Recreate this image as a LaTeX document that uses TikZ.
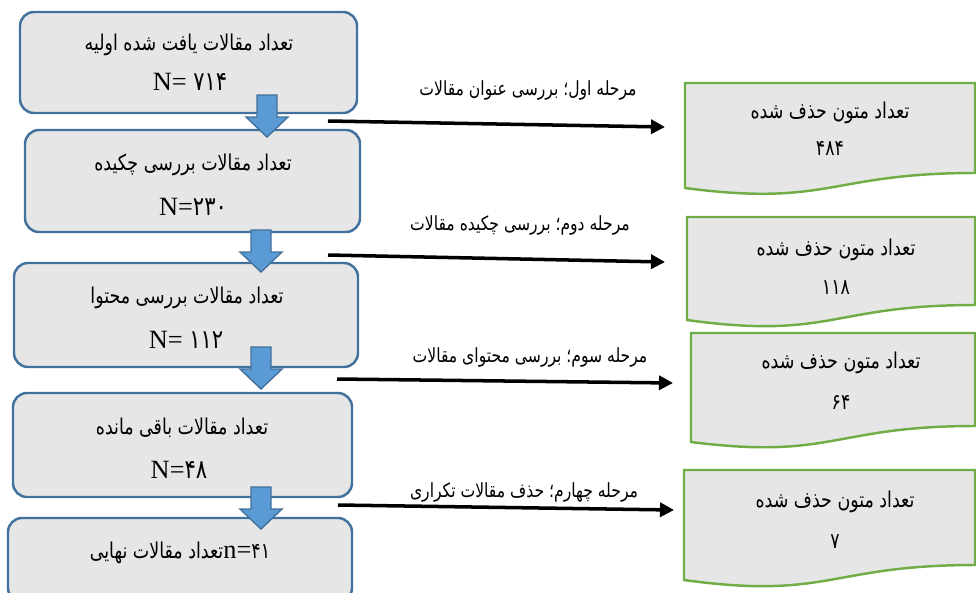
\documentclass[tikz,border=0pt]{standalone}
\usepackage{fontspec}
\setmainfont{Liberation Serif}
\newfontfamily\arabicfont[Script=Arabic,FakeStretch=0.8]{DejaVu Sans}
\TeXXeTstate=1
\usetikzlibrary{arrows.meta}

\definecolor{boxgray}{HTML}{E7E6E6}
\definecolor{boxblue}{HTML}{41719C}
\definecolor{arrowblue}{HTML}{5B9BD5}
\definecolor{docgreen}{HTML}{70AD47}

% persian text, right to left
\newcommand{\fa}[1]{{\arabicfont\beginR #1\endR}}

\begin{document}
\begin{tikzpicture}[x=0.02cm,y=-0.02cm,line width=0.8pt]
\tikzset{
  stagebox/.style={draw=boxblue,fill=boxgray,line width=1.4pt,rounded corners=0.28cm},
  docbox/.style={draw=docgreen,fill=boxgray,line width=1.4pt},
  blockarr/.style={draw=boxblue,fill=arrowblue,line width=0.8pt},
  flow/.style={line width=2pt,-{Triangle[length=8pt,width=8pt]}},
  txt/.style={inner sep=0pt,font=\fontsize{12.4}{14}\selectfont},
  steplabel/.style={inner sep=0pt,font=\fontsize{11.1}{13}\selectfont},
  num/.style={inner sep=0pt,font=\fontsize{15}{17}\selectfont}}
% block arrow at centre x, top y
\newcommand{\blockdown}[2]{%
  \draw[blockarr] (#1-10,#2) -- (#1+10,#2) -- (#1+10,#2+22) -- (#1+21,#2+22)
    -- (#1,#2+42) -- (#1-21,#2+22) -- (#1-10,#2+22) -- cycle;}
% document shape: left x, top y, right bottom y, left bottom y, control y
\newcommand{\docshape}[5]{%
  \draw[docbox] (#1,#2) -- (975,#2) -- (975,#3)
    .. controls ({(#1+975)/2},#3) and ({(#1+975)/2},#5) .. (#1,#4) -- cycle;}
\useasboundingbox (0,0) rectangle (976,592);
\clip (0,0) rectangle (976,592);
% ---------- stages ----------
\draw[stagebox] (20,12) rectangle (357,113);
\draw[stagebox] (25,130) rectangle (360,232);
\draw[stagebox] (14,263) rectangle (358,367);
\draw[stagebox] (13,393) rectangle (352,497);
\draw[stagebox] (8,518) rectangle (352,602);
\node[txt] (s1a) at (189,45) {\fa{تعداد مقالات یافت شده اولیه}};
\node[num] (s1b) at (190,82) {N= {\arabicfont ۷۱۴}};
\node[txt] (s2a) at (193,165) {\fa{تعداد مقالات بررسی چکیده}};
\node[num] (s2b) at (193,207) {N={\arabicfont ۲۳۰}};
\node[txt] (s3a) at (187,298) {\fa{تعداد مقالات بررسی محتوا}};
\node[num] (s3b) at (186,340) {N= {\arabicfont ۱۱۲}};
\node[txt] (s4a) at (182,428) {\fa{تعداد مقالات باقی مانده}};
\node[num] (s4b) at (179,470) {N={\arabicfont ۴۸}};
\node[txt] (s5a) at (180,553) {\fa{تعداد مقالات نهایی}{\fontsize{15}{17}\selectfont n=}{\arabicfont ۴۱}};
% ---------- block arrows ----------
\blockdown{267}{95}
\blockdown{261}{230}
\blockdown{261}{347}
\blockdown{261}{487}
% ---------- removed texts ----------
\docshape{685}{83}{173}{188}{207}
\docshape{687}{217}{305}{320}{340}
\docshape{691}{333}{426}{442}{460}
\docshape{684}{470}{565}{580}{600}
\node[txt] (d1a) at (830,113) {\fa{تعداد متون حذف شده}};
\node[txt] (d1b) at (830,148) {\arabicfont ۴۸۴};
\node[txt] (d2a) at (836,250) {\fa{تعداد متون حذف شده}};
\node[txt] (d2b) at (836,288) {\arabicfont ۱۱۸};
\node[txt] (d3a) at (841,363) {\fa{تعداد متون حذف شده}};
\node[txt] (d3b) at (841,402) {\arabicfont ۶۴};
\node[txt] (d4a) at (835,502) {\fa{تعداد متون حذف شده}};
\node[txt] (d4b) at (835,542) {\arabicfont ۷};
% ---------- screening steps ----------
\coordinate (f1) at (328,121); \coordinate (g1) at (665,127);
\coordinate (f2) at (328,255); \coordinate (g2) at (665,262);
\coordinate (f3) at (337,379); \coordinate (g3) at (673,383);
\coordinate (f4) at (338,505); \coordinate (g4) at (674,510);
\draw[flow] (f1) -- (g1);
\draw[flow] (f2) -- (g2);
\draw[flow] (f3) -- (g3);
\draw[flow] (f4) -- (g4);
\node[steplabel] (l1) at (528,90) {\fa{مرحله اول؛ بررسی عنوان مقالات}};
\node[steplabel] (l2) at (520,225) {\fa{مرحله دوم؛ بررسی چکیده مقالات}};
\node[steplabel] (l3) at (530,357) {\fa{مرحله سوم؛ بررسی محتوای مقالات}};
\node[steplabel] (l4) at (524,492) {\fa{مرحله چهارم؛ حذف مقالات تکراری}};
\end{tikzpicture}
\end{document}
